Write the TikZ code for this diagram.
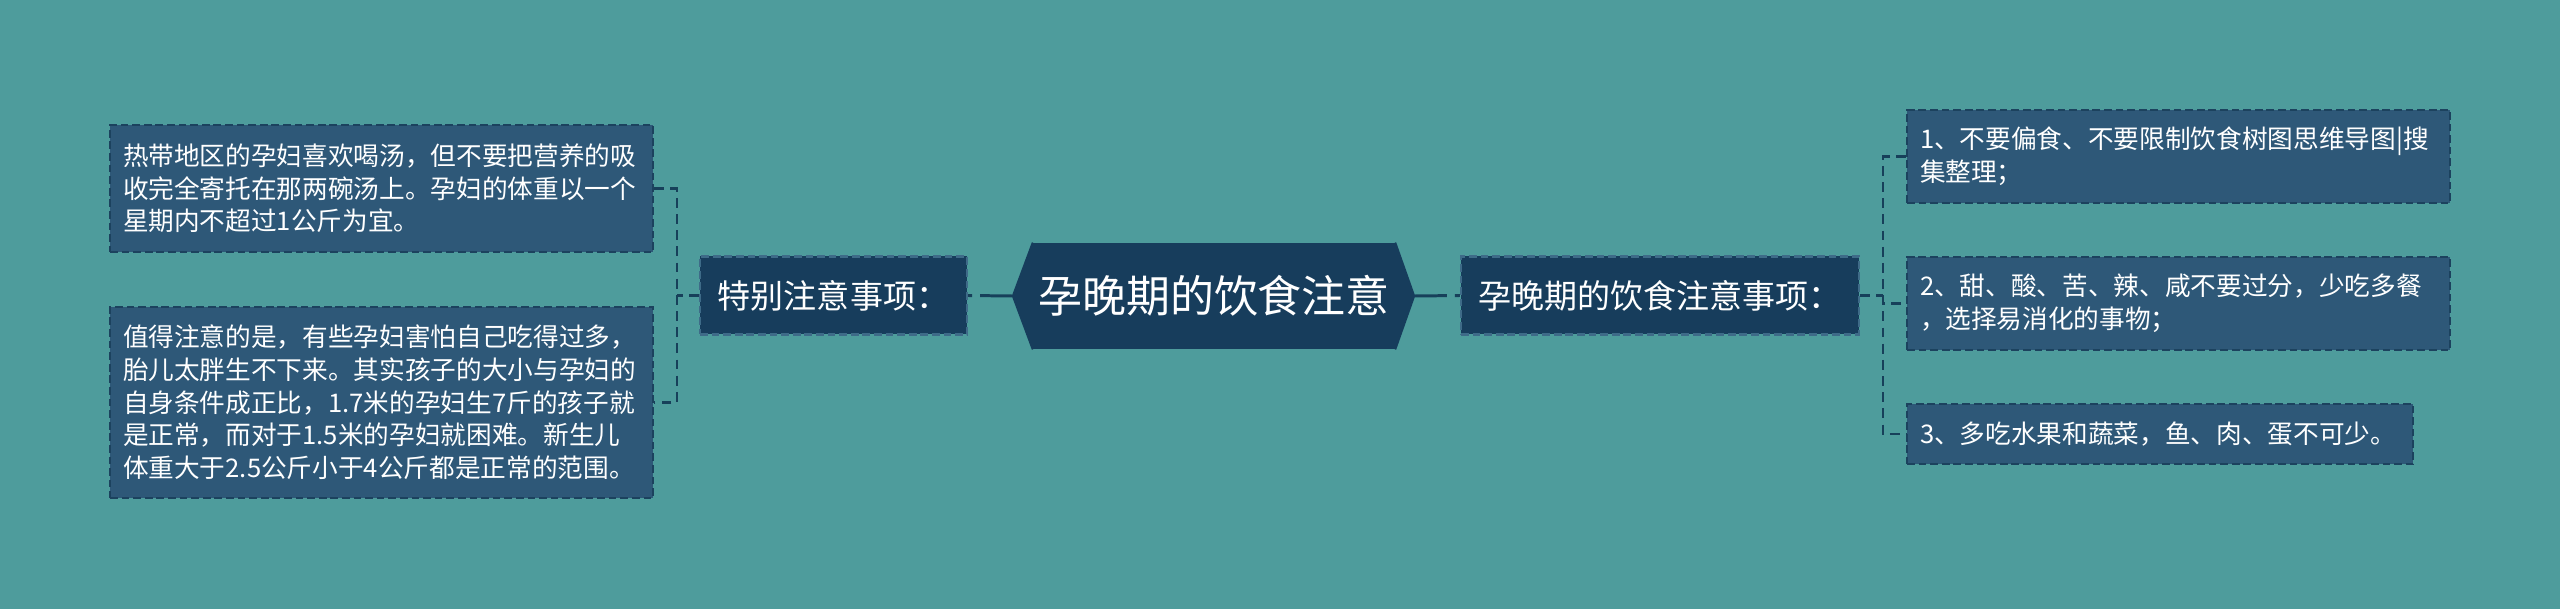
\documentclass[tikz,border=0pt]{standalone}
\usepackage{fontspec}
\setmainfont{Noto Sans CJK SC}
\usetikzlibrary{positioning}
\definecolor{bgteal}{HTML}{4E9C9C}
\definecolor{leaffill}{HTML}{2E5878}
\definecolor{leafedge}{HTML}{1C425E}
\definecolor{topfill}{HTML}{173D5C}
\definecolor{midedge}{HTML}{3E6B88}
\definecolor{linkcol}{HTML}{17405A}

\begin{document}
\begin{tikzpicture}[
  leafbox/.style={fill=leaffill, draw=leafedge, line width=0.6pt, dash pattern=on 2.2pt off 1.1pt,
    text=white, align=left, inner xsep=0.13cm, inner ysep=0pt,
    font=\fontsize{7.3pt}{9.3pt}\selectfont},
  midbox/.style={fill=topfill, draw=midedge, line width=0.6pt, dash pattern=on 2.2pt off 1.1pt,
    text=white, inner sep=0pt, minimum height=0.78cm, font=\fontsize{9.4pt}{11pt}\selectfont},
  link/.style={draw=linkcol, line width=0.85pt, dash pattern=on 9pt off 2.3pt},
  brace/.style={draw=linkcol, line width=0.6pt, dash pattern=on 2.8pt off 1.8pt}
]
\path [fill=bgteal, use as bounding box] (0,0) rectangle (25.6,6.09);

\node (title) [fill=topfill, text=white, inner sep=0pt, minimum width=3.63cm, minimum height=1.06cm,
  font=\fontsize{12.5pt}{14pt}\selectfont] at (12.14,3.13) {孕晚期的饮食注意};
\coordinate [left=0.2cm of title.west] (titlel);
\coordinate [right=0.19cm of title.east] (titler);
\fill [topfill] ([xshift=0.4pt]title.north west) -- (title.north west) -- (titlel) -- (title.south west) -- ([xshift=0.4pt]title.south west) -- cycle;
\fill [topfill] ([xshift=-0.4pt]title.north east) -- (title.north east) -- (titler) -- (title.south east) -- ([xshift=-0.4pt]title.south east) -- cycle;

\node (warn) [midbox, minimum width=2.67cm] at (8.335,3.135) {特别注意事项：};
\node (diet) [midbox, minimum width=3.98cm] at (16.60,3.135) {孕晚期的饮食注意事项：};

\node (soup) [leafbox, text width=5.17cm, minimum height=1.27cm] at (3.815,4.205)
  {热带地区的孕妇喜欢喝汤，但不要把营养的吸\\收完全寄托在那两碗汤上。孕妇的体重以一个\\星期内不超过1公斤为宜。};
\node (size) [leafbox, text width=5.17cm, minimum height=1.91cm] at (3.815,2.065)
  {值得注意的是，有些孕妇害怕自己吃得过多，\\胎儿太胖生不下来。其实孩子的大小与孕妇的\\自身条件成正比，1.7米的孕妇生7斤的孩子就\\是正常，而对于1.5米的孕妇就困难。新生儿\\体重大于2.5公斤小于4公斤都是正常的范围。};

\node (tip1) [leafbox, text width=5.17cm, minimum height=0.93cm] at (21.785,4.525)
  {1、不要偏食、不要限制饮食树图思维导图|搜\\集整理；};
\node (tip2) [leafbox, text width=5.17cm, minimum height=0.93cm] at (21.785,3.055)
  {2、甜、酸、苦、辣、咸不要过分，少吃多餐\\，选择易消化的事物；};
\node (tip3) [leafbox, text width=4.80cm, minimum height=0.60cm] at (21.60,1.75)
  {3、多吃水果和蔬菜，鱼、肉、蛋不可少。};

\draw [link] (titlel) -- (warn.east);
\draw [link] (titler) -- (diet.west);

\coordinate (lk) at (6.77,3.135);
\coordinate (rk) at (18.83,3.135);
\draw [brace] (warn.west) -- (lk);
\draw [brace] (soup.east) -| (lk) |- (size.east);
\draw [brace] (diet.east) -- (rk);
\draw [brace] (tip1.west) -| (rk) |- (tip3.west);
\draw [brace] (rk) |- (tip2.west);
\end{tikzpicture}
\end{document}
